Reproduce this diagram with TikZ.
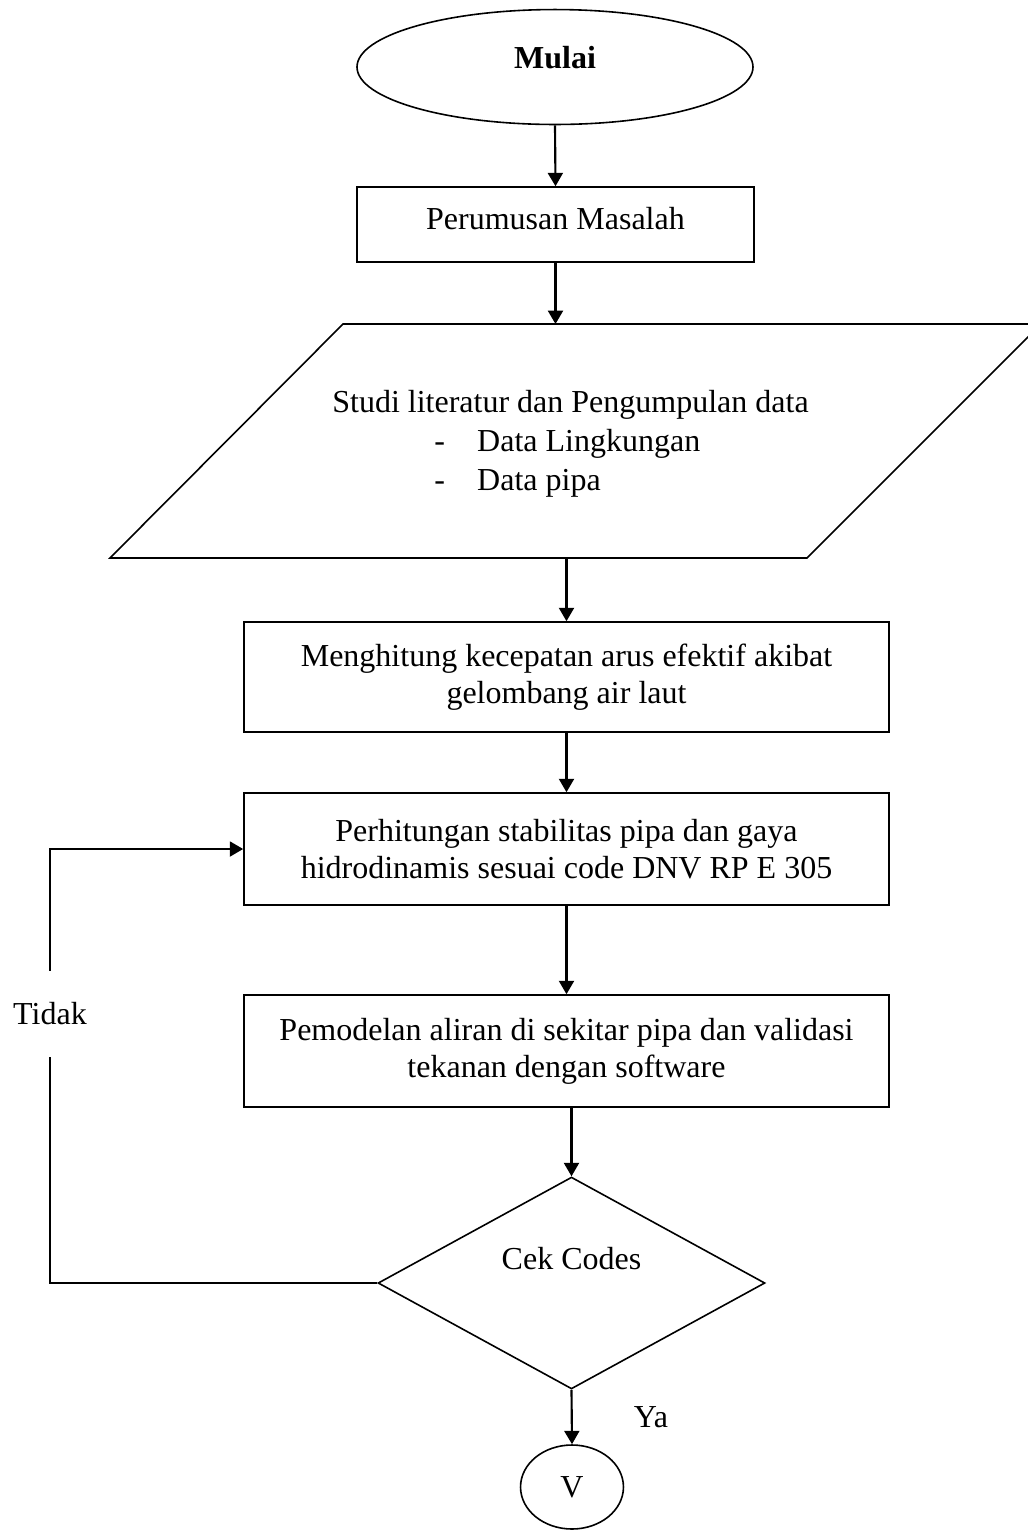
\documentclass[tikz,border=0pt]{standalone}
\usepackage{fontspec}
\setmainfont{Liberation Serif}
\usepackage{tikz}
\usetikzlibrary{shapes.geometric,arrows.meta}

\tikzset{
  teks/.style={font=\fontsize{12}{13.9}\selectfont},
  kotak/.style={draw, line width=0.6pt, rectangle, align=center, teks, inner sep=0pt},
  panah/.style={line width=0.8pt, -{Triangle[length=5pt,width=5.6pt]}},
  garis/.style={line width=0.8pt},
}

\begin{document}
\begin{tikzpicture}[x=0.375pt,y=0.375pt,yscale=-1,xscale=1]
%set diagram left start at 0, and has height of 1530
\useasboundingbox (0,0) rectangle (1027,1530);

%Shape: Ellipse
\draw (555,67) node [draw, line width=0.6pt, ellipse, teks, minimum width=148.5pt, minimum height=43.1pt, inner sep=0pt, text depth=7pt] (mulai) {\textbf{Mulai}};
%Shape: Rectangle
\draw (555.5,224.5) node [kotak, minimum width=148.9pt, minimum height=28.1pt, text depth=4.5pt] (rumusan) {Perumusan Masalah};
%Shape: Parallelogram
\draw [line width=0.6pt] (343,324) -- (1041,324) -- (807,558) -- (110,558) -- cycle ;
\coordinate (studiatas) at (563,324);
\coordinate (studibawah) at (566.5,558);
% Text Node
\draw (570.5,444) node [inner sep=0pt, font=\fontsize{12}{14.6}\selectfont, align=left] (studi) {Studi literatur dan Pengumpulan data\\
\hspace*{38.25pt}\makebox[16.1pt][l]{-}Data Lingkungan\\
\hspace*{38.25pt}\makebox[16.1pt][l]{-}Data pipa};
%Shape: Rectangle
\draw (566.5,677) node [kotak, minimum width=241.9pt, minimum height=41.25pt] (arus) {Menghitung kecepatan arus efektif akibat\\gelombang air laut};
%Shape: Rectangle
\draw (566.5,849) node [kotak, minimum width=241.9pt, minimum height=42pt] (stabil) {Perhitungan stabilitas pipa dan gaya\\hidrodinamis sesuai code DNV RP E 305};
%Shape: Rectangle
\draw (566.5,1051) node [kotak, minimum width=241.9pt, minimum height=42pt] (model) {Pemodelan aliran di sekitar pipa dan validasi\\tekanan dengan software};
%Shape: Diamond
\draw (571.5,1283) node [draw, line width=0.6pt, diamond, teks, minimum width=145.1pt, minimum height=75pt, inner sep=0pt, text depth=18.8pt] (cek) {Cek Codes};
%Shape: Ellipse
\draw (572,1487) node [draw, line width=0.6pt, ellipse, teks, minimum width=38.6pt, minimum height=31.5pt, inner sep=0pt] (konektor) {V};

% Text Node
\draw (50,1014) node [teks, inner sep=0pt, minimum height=31.9pt] (tidak) {Tidak};
% Text Node
\draw (651,1417) node [teks, inner sep=0pt] (ya) {Ya};

%Straight Lines
\draw [panah] (mulai.south) -- (rumusan.north);
\draw [panah] (rumusan.south) -- (rumusan.south |- studiatas);
\draw [panah] (arus.north |- studibawah) -- (arus.north);
\draw [panah] (arus.south) -- (stabil.north);
\draw [panah] (stabil.south) -- (model.north);
\draw [panah] (cek.north |- model.south) -- (cek.north);
\draw [panah] (cek.south) -- (konektor.north);
%Feedback Lines
\draw [garis] (cek.west) -| (tidak.south);
\draw [panah] (tidak.north) |- (stabil.west);
\end{tikzpicture}
\end{document}
